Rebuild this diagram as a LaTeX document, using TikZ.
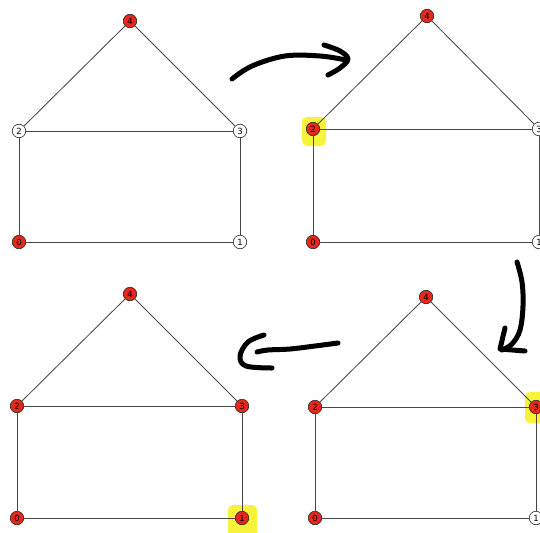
\documentclass[tikz,border=0pt]{standalone}
\usepackage{fontspec}
\setsansfont{DejaVu Sans}
\usetikzlibrary{backgrounds}
\definecolor{nodered}{RGB}{228,40,28}
\definecolor{hilite}{RGB}{246,243,58}
\definecolor{edgegray}{RGB}{70,70,70}
\tikzset{
  vtx/.style={circle, draw=black!85, line width=0.6pt, minimum size=13.5pt, inner sep=0pt,
              font=\sffamily\fontsize{8.5}{8.5}\selectfont},
  on/.style={vtx, fill=nodered},
  off/.style={vtx, fill=white},
  edge/.style={draw=edgegray, line width=0.85pt},
  hl/.style={fill=hilite, rounded corners=5pt},
  stroke/.style={line width=5pt, line cap=round, line join=round, black}
}
\begin{document}
\begin{tikzpicture}[x=1pt,y=-1pt]
\useasboundingbox (0,0) rectangle (540,532);
\clip (0,0) rectangle (540,532);

% first house
\node[on]  (a4) at (130,21)  {4};
\node[off] (a2) at (19,131)  {2};
\node[off] (a3) at (240,131) {3};
\node[on]  (a0) at (19,242)  {0};
\node[off] (a1) at (240,242) {1};
% second house
\node[on]  (b4) at (427,16)  {4};
\node[on]  (b2) at (313,129) {2};
\node[off] (b3) at (539,129) {3};
\node[on]  (b0) at (313,242) {0};
\node[off] (b1) at (539,242) {1};
% third house (lower right)
\node[on]  (d4) at (426,297) {4};
\node[on]  (d2) at (315,407) {2};
\node[on]  (d3) at (536,407) {3};
\node[on]  (d0) at (315,518) {0};
\node[off] (d1) at (536,518) {1};
% fourth house (lower left)
\node[on]  (c4) at (130,294) {4};
\node[on]  (c2) at (17,406)  {2};
\node[on]  (c3) at (242,406) {3};
\node[on]  (c0) at (17,518)  {0};
\node[on]  (c1) at (242,518) {1};

\begin{scope}[on background layer]
  % highlighter marks
  \fill[hl] (302,117) rectangle (326,146);
  \fill[hl] (525,392) rectangle (548,423);
  \fill[hl] (228,505) rectangle (257,540);
  % house edges
  \foreach \p in {a,b,c,d}{
    \path[edge] (\p0) -- (\p1);
    \path[edge] (\p0) -- (\p2);
    \path[edge] (\p1) -- (\p3);
    \path[edge] (\p2) -- (\p3);
    \path[edge] (\p2) -- (\p4);
    \path[edge] (\p3) -- (\p4);
  }
\end{scope}

% hand-drawn arrows
\draw[stroke] plot[smooth, tension=0.6] coordinates {(232,79) (252,66) (285,56) (320,56) (346,60)};
\draw[stroke] plot[smooth, tension=0.6] coordinates {(324,45) (340,51) (348,59) (340,68) (328,75)};

\draw[stroke] plot[smooth, tension=0.6] coordinates {(517,262) (522,282) (523,306) (520,330) (512,344) (502,350)};
\draw[stroke] (505,328) -- (500,349) -- (525,351);

\draw[stroke] plot[smooth, tension=0.6] coordinates {(338,343) (315,346) (290,349) (268,350) (257,352)};
\draw[stroke] plot[smooth, tension=0.6] coordinates {(264,335) (248,342) (240,356) (246,366) (272,368)};
\end{tikzpicture}
\end{document}
